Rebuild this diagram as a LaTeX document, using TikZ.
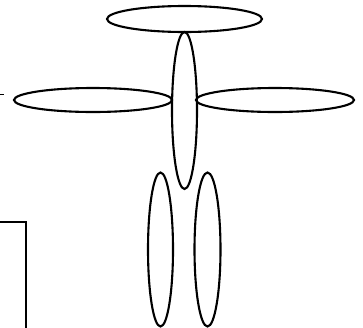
\documentclass[tikz,border=0pt]{standalone}
\usetikzlibrary{shapes.geometric}
\begin{document}
\begin{tikzpicture}[x=1pt,y=-1pt,
  ell/.style={draw=black, ellipse, line width=2.1pt, inner sep=0pt}]
\useasboundingbox (0,0) rectangle (363,327);
\node[ell, minimum width=155pt, minimum height=26pt] (top) at (184.5,19) {};
\node[ell, minimum width=158pt, minimum height=24pt] (left) at (93,100) {};
\node[ell, minimum width=158pt, minimum height=24pt] (right) at (275,100) {};
\node[ell, minimum width=25pt, minimum height=157pt] (mid) at (184.5,110.5) {};
\node[ell, minimum width=25pt, minimum height=154pt] (low1) at (160.5,249.5) {};
\node[ell, minimum width=26pt, minimum height=154pt] (low2) at (207.5,249.5) {};
\node[draw=black, line width=2.2pt, minimum width=80pt, minimum height=160pt, anchor=north east, inner sep=0pt] (box) at (27,221) {};
\coordinate (s1) at (-2,94);
\coordinate (s2) at (4,94);
\draw[line width=1pt] (s1) -- (s2);
\end{tikzpicture}
\end{document}
